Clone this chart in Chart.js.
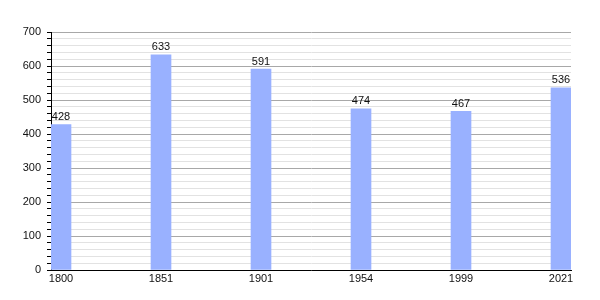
<!DOCTYPE html>
<html><head><meta charset="utf-8">
<script src="https://cdn.jsdelivr.net/npm/chart.js@4/dist/chart.umd.min.js"></script>
<style>html,body{margin:0;padding:0;background:#fff}#wrap{width:600px;height:300px}</style>
</head><body><div id="wrap"><canvas id="c" width="600" height="300"></canvas></div>
<script>
const years = ['1800','1851','1901','1954','1999','2021'];
const population = [428, 633, 591, 474, 467, 536];
const yMax = 700;
const yMinorStep = 20;
const yMajorStep = 100;

Chart.defaults.font.family = '"Liberation Sans", Arial, sans-serif';
Chart.defaults.font.size = 11;
Chart.defaults.color = '#222';

const labelPlugin = {
  id: 'barLabels',
  afterDatasetsDraw(chart) {
    const ctx = chart.ctx;
    const meta = chart.getDatasetMeta(0);
    ctx.save();
    ctx.font = '11px "Liberation Sans", Arial, sans-serif';
    ctx.fillStyle = '#111';
    ctx.textAlign = 'center';
    ctx.textBaseline = 'bottom';
    meta.data.forEach((el, i) => {
      ctx.fillText(String(population[i]), el.x, el.y - 2);
    });
    ctx.restore();
  }
};

new Chart(document.getElementById('c'), {
  type: 'bar',
  data: {
    datasets: [{
      data: population.map((v, i) => ({x: i, y: v})),
      backgroundColor: '#99b1ff',
      borderWidth: 0,
      barThickness: 20
    }]
  },
  options: {
    responsive: false,
    animation: false,
    layout: {padding: {top: 32, right: 29, left: 0, bottom: 0}},
    plugins: {legend: {display: false}, tooltip: {enabled: false}},
    scales: {
      x: {
        type: 'linear',
        offset: false,
        min: -0.1,
        max: years.length - 0.9,
        afterBuildTicks(scale) { scale.ticks = years.map((_, i) => ({value: i})); },
        afterFit(scale) { scale.height = 30; },
        ticks: {
          callback: (v) => years[v] ?? '',
          color: '#111',
          padding: 2,
          autoSkip: false,
          maxRotation: 0
        },
        grid: {display: false, drawTicks: false, offset: false},
        border: {display: true, color: '#000', width: 1}
      },
      y: {
        min: 0,
        max: yMax,
        afterBuildTicks(scale) {
          const t = [];
          for (let v = 0; v <= yMax; v += yMinorStep) t.push({value: v});
          scale.ticks = t;
        },
        afterFit(scale) { scale.width = 51; },
        ticks: {
          autoSkip: false,
          callback: (v) => (v % yMajorStep === 0 ? String(v) : ''),
          color: '#111',
          padding: 6
        },
        grid: {
          color: (c) => (c.tick && c.tick.value % yMajorStep === 0 ? '#a8a8a8' : '#e2e2e2'),
          tickColor: '#000',
          tickLength: 4,
          lineWidth: 1
        },
        border: {display: true, color: '#000', width: 1}
      }
    }
  },
  plugins: [labelPlugin]
});
</script>
</body></html>
